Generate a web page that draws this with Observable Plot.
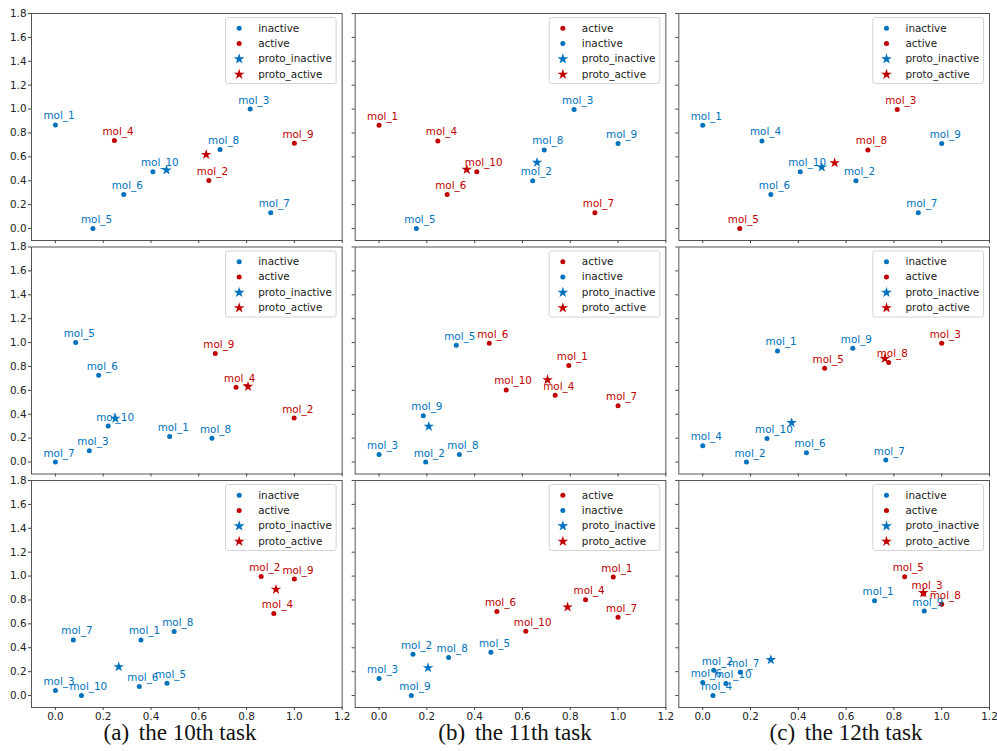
<!DOCTYPE html>
<html>
<head>
<meta charset="utf-8">
<script src="https://cdn.jsdelivr.net/npm/d3@7"></script>
<script src="https://cdn.jsdelivr.net/npm/@observablehq/plot@0.6"></script>
<style>
  body { margin: 0; background: #fff; }
  #wrap { position: relative; width: 997px; height: 751px; overflow: hidden; background: #fff; }
  #wrap svg { position: absolute; left: 0; top: 0; }
  .cap { position: absolute; top: 721px; font-family: "Liberation Serif", "Times New Roman", serif;
         font-size: 23px; line-height: 23px; white-space: pre; transform: translateX(-50%); color: #111; }
</style>
</head>
<body>
<div id="wrap"></div>
<script>
// ---------- data ----------
const molNames = ["mol_1","mol_2","mol_3","mol_4","mol_5","mol_6","mol_7","mol_8","mol_9","mol_10"];
const tasks = ["a","b","c"];
const rows = [1,2,3];
const captions = ["(a)", "(b)", "(c)"];
const captionTexts = ["the 10th task", "the 11th task", "the 12th task"];
const xTicks = [0, 0.2, 0.4, 0.6, 0.8, 1.0, 1.2];
const yTicks = [0, 0.2, 0.4, 0.6, 0.8, 1.0, 1.2, 1.4, 1.6, 1.8];
const legendOrderAC = ["inactive", "active", "proto_inactive", "proto_active"];
const legendOrderB  = ["active", "inactive", "proto_inactive", "proto_active"];

// values for mol_1 ... mol_10 in each panel; active = numbers of active molecules
const a1X = [0.000, 0.642, 0.815, 0.247, 0.157, 0.286, 0.901, 0.689, 1.000, 0.408];
const a1Y = [0.867, 0.403, 1.000, 0.736, 0.000, 0.286, 0.133, 0.661, 0.714, 0.475];
const a1Active = [2, 4, 9];
const a1ProtoInactive = [0.465, 0.489];
const a1ProtoActive = [0.631, 0.619];

const b1X = [0.000, 0.643, 0.816, 0.246, 0.156, 0.285, 0.903, 0.691, 1.000, 0.409];
const b1Y = [0.864, 0.400, 0.997, 0.733, 0.000, 0.286, 0.133, 0.658, 0.711, 0.475];
const b1Active = [1, 4, 6, 7, 10];
const b1ProtoInactive = [0.661, 0.553];
const b1ProtoActive = [0.367, 0.494];

const c1X = [0.000, 0.641, 0.814, 0.248, 0.155, 0.285, 0.902, 0.691, 1.000, 0.408];
const c1Y = [0.864, 0.400, 0.997, 0.733, 0.000, 0.286, 0.133, 0.658, 0.711, 0.475];
const c1Active = [3, 5, 8];
const c1ProtoInactive = [0.498, 0.514];
const c1ProtoActive = [0.552, 0.550];

const a2X = [0.478, 0.999, 0.142, 0.756, 0.085, 0.181, 0.000, 0.655, 0.669, 0.221];
const a2Y = [0.214, 0.368, 0.095, 0.627, 1.000, 0.727, 0.000, 0.200, 0.908, 0.301];
const a2Active = [2, 4, 9];
const a2ProtoInactive = [0.251, 0.365];
const a2ProtoActive = [0.806, 0.632];

const b2X = [0.794, 0.195, 0.000, 0.737, 0.323, 0.461, 1.000, 0.336, 0.185, 0.532];
const b2Y = [0.808, 0.000, 0.064, 0.560, 0.978, 0.994, 0.471, 0.064, 0.387, 0.604];
const b2Active = [1, 4, 6, 7, 10];
const b2ProtoInactive = [0.208, 0.298];
const b2ProtoActive = [0.705, 0.688];

const c2X = [0.313, 0.183, 1.000, 0.000, 0.510, 0.434, 0.766, 0.778, 0.628, 0.269];
const c2Y = [0.930, 0.000, 0.994, 0.136, 0.786, 0.078, 0.017, 0.833, 0.953, 0.198];
const c2Active = [3, 5, 8];
const c2ProtoInactive = [0.372, 0.329];
const c2ProtoActive = [0.762, 0.866];

const a3X = [0.358, 0.861, 0.000, 0.914, 0.467, 0.351, 0.075, 0.497, 1.000, 0.109];
const a3Y = [0.466, 0.997, 0.042, 0.687, 0.103, 0.075, 0.466, 0.536, 0.975, 0.000];
const a3Active = [2, 4, 9];
const a3ProtoInactive = [0.265, 0.240];
const a3ProtoActive = [0.923, 0.888];

const b3X = [0.980, 0.142, 0.000, 0.864, 0.468, 0.493, 1.000, 0.291, 0.135, 0.614];
const b3Y = [0.992, 0.346, 0.142, 0.802, 0.363, 0.703, 0.656, 0.318, 0.000, 0.539];
const b3Active = [1, 4, 6, 7, 10];
const b3ProtoInactive = [0.205, 0.232];
const b3ProtoActive = [0.789, 0.740];

const c3X = [0.719, 0.046, 0.924, 0.043, 0.845, 0.000, 0.157, 1.000, 0.927, 0.097];
const c3Y = [0.793, 0.212, 0.850, 0.000, 0.994, 0.109, 0.196, 0.765, 0.707, 0.101];
const c3Active = [3, 5, 8];
const c3ProtoInactive = [0.285, 0.299];
const c3ProtoActive = [0.923, 0.860];

// ---------- styling ----------
const BLUE = "#0072bd";
const RED = "#c00000";
const FONT = "DejaVu Sans";
const FS = 10.4;

// ---------- tables ----------
const panels = [
  {task: "a", row: 1, xs: a1X, ys: a1Y, act: a1Active, pi: a1ProtoInactive, pa: a1ProtoActive},
  {task: "b", row: 1, xs: b1X, ys: b1Y, act: b1Active, pi: b1ProtoInactive, pa: b1ProtoActive},
  {task: "c", row: 1, xs: c1X, ys: c1Y, act: c1Active, pi: c1ProtoInactive, pa: c1ProtoActive},
  {task: "a", row: 2, xs: a2X, ys: a2Y, act: a2Active, pi: a2ProtoInactive, pa: a2ProtoActive},
  {task: "b", row: 2, xs: b2X, ys: b2Y, act: b2Active, pi: b2ProtoInactive, pa: b2ProtoActive},
  {task: "c", row: 2, xs: c2X, ys: c2Y, act: c2Active, pi: c2ProtoInactive, pa: c2ProtoActive},
  {task: "a", row: 3, xs: a3X, ys: a3Y, act: a3Active, pi: a3ProtoInactive, pa: a3ProtoActive},
  {task: "b", row: 3, xs: b3X, ys: b3Y, act: b3Active, pi: b3ProtoInactive, pa: b3ProtoActive},
  {task: "c", row: 3, xs: c3X, ys: c3Y, act: c3Active, pi: c3ProtoInactive, pa: c3ProtoActive}
];

const points = panels.flatMap(p => molNames.map((name, i) => ({
  task: p.task, row: p.row, name, x: p.xs[i], y: p.ys[i],
  kind: p.act.includes(i + 1) ? "active" : "inactive"
})));

const stars = panels.flatMap(p => [
  {task: p.task, row: p.row, x: p.pi[0], y: p.pi[1], kind: "inactive"},
  {task: p.task, row: p.row, x: p.pa[0], y: p.pa[1], kind: "active"}
]);

const legendRows = panels.flatMap(p => (p.task === "b" ? legendOrderB : legendOrderAC).map((label, i) => ({
  task: p.task, row: p.row, i, label,
  kind: label.endsWith("inactive") ? "inactive" : "active",
  star: label.startsWith("proto")
})));

// ---------- legend marks (one per row position) ----------
const legendMarks = [];
for (let i = 0; i < 4; i++) {
  const rowsI = legendRows.filter(d => d.i === i);
  const isStar = rowsI[0].star;
  legendMarks.push(
    Plot.dot(rowsI, {fx: "task", fy: "row", frameAnchor: "top-right", dx: -103, dy: 14.7 + i * 15.4,
      symbol: isStar ? "star" : "circle", r: isStar ? 3.4 : 2.5, fill: "kind"}),
    Plot.text(rowsI, {fx: "task", fy: "row", frameAnchor: "top-right", dx: -84, dy: 14.7 + i * 15.4,
      text: "label", textAnchor: "start", lineAnchor: "middle", fill: "#1a1a1a", fontSize: FS})
  );
}

const chart = Plot.plot({
  width: 997,
  height: 722,
  marginLeft: 31,
  marginRight: 8,
  marginTop: 13,
  marginBottom: 15,
  x: {domain: [-0.1, 1.2], axis: null, label: null},
  y: {domain: [-0.1, 1.8], axis: null, label: null},
  fx: {domain: tasks, paddingInner: 13 / 324, paddingOuter: 0, round: false, axis: null, label: null},
  fy: {domain: rows, paddingInner: 6.5 / 233.5, paddingOuter: 0, round: false, axis: null, label: null},
  color: {domain: ["inactive", "active"], range: [BLUE, RED]},
  style: {fontFamily: FONT, fontSize: FS + "px", color: "#222", background: "white"},
  marks: [
    Plot.frame({fill: "white", fillOpacity: 0.8, stroke: "#d4d4d4", rx: 2.5,
      insetLeft: 194, insetRight: 6, insetTop: 4, insetBottom: 157}),
    Plot.dot(points, {x: "x", y: "y", fx: "task", fy: "row", fill: "kind", r: 2.5}),
    Plot.text(points, {x: "x", y: "y", fx: "task", fy: "row", text: "name", fill: "kind",
      textAnchor: "start", lineAnchor: "bottom", dx: -12, dy: -5.5, fontSize: FS}),
    Plot.dot(stars, {x: "x", y: "y", fx: "task", fy: "row", fill: "kind", symbol: "star", r: 3.3}),
    ...legendMarks,
    Plot.frame({stroke: "#555", strokeWidth: 1}),
    Plot.axisX(xTicks, {tickSize: 3, fill: "none", stroke: "#444", facetAnchor: null, label: null}),
    Plot.axisY(yTicks, {tickSize: 3, fill: "none", stroke: "#444", facetAnchor: null, label: null}),
    Plot.axisX(xTicks, {tickSize: 0, tickPadding: 5, tickFormat: d3.format(".1f"), fill: "#222",
      fontSize: FS, label: null}),
    Plot.axisY(yTicks, {tickSize: 0, tickPadding: 5, tickFormat: d3.format(".1f"), fill: "#222",
      fontSize: FS, label: null})
  ]
});

const wrap = document.getElementById("wrap");
wrap.appendChild(chart);

const capCenters = [180, 515, 846];
captions.forEach((c, i) => {
  const div = document.createElement("div");
  div.className = "cap";
  div.style.left = capCenters[i] + "px";
  div.innerHTML = `<span>${c}</span><span style="margin-left:4px"> ${captionTexts[i]}</span>`;
  wrap.appendChild(div);
});
</script>
</body>
</html>
